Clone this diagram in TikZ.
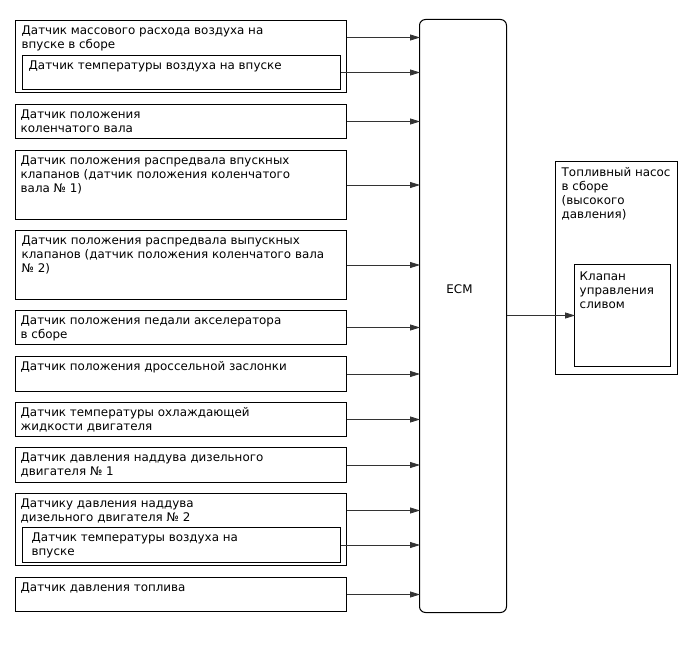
\documentclass[tikz,border=0pt]{standalone}
\usepackage{fontspec}
\setmainfont{DejaVu Sans}
\usetikzlibrary{arrows.meta}
\begin{document}
\begin{tikzpicture}[x=1pt,y=-1pt,
  sbox/.style={draw=black,line width=1pt,anchor=north west,inner sep=0pt,outer sep=0pt},
  txt/.style={anchor=north west,inner sep=0pt,align=left,font=\fontsize{11.9}{14}\selectfont},
  arr/.style={draw=black!80,line width=0.8pt,-{Triangle[length=10pt,width=6pt]},shorten >=-0.5pt}]
\useasboundingbox (0,0) rectangle (688,658);
% sensor boxes
\node[sbox,minimum width=331pt,minimum height=72pt] (b1) at (15.5,20.5) {};
\node[sbox,minimum width=318pt,minimum height=34pt] (i1) at (22.5,55.5) {};
\node[sbox,minimum width=331pt,minimum height=34pt] (b2) at (15.5,104.5) {};
\node[sbox,minimum width=331pt,minimum height=69pt] (b3) at (15.5,150.5) {};
\node[sbox,minimum width=331pt,minimum height=69pt] (b4) at (15.5,230.5) {};
\node[sbox,minimum width=331pt,minimum height=34pt] (b5) at (15.5,310.5) {};
\node[sbox,minimum width=331pt,minimum height=35pt] (b6) at (15.5,356.5) {};
\node[sbox,minimum width=331pt,minimum height=34pt] (b7) at (15.5,402.5) {};
\node[sbox,minimum width=331pt,minimum height=35pt] (b8) at (15.5,447.5) {};
\node[sbox,minimum width=331pt,minimum height=72pt] (b9) at (15.5,493.5) {};
\node[sbox,minimum width=318pt,minimum height=35pt] (i9) at (22.5,527.5) {};
\node[sbox,minimum width=331pt,minimum height=34pt] (b10) at (15.5,577.5) {};
% ECM and pump
\node[sbox,rounded corners=6pt,minimum width=87pt,minimum height=593pt] (ecm) at (419.5,19.5) {};
\node[sbox,minimum width=122pt,minimum height=213pt] (pump) at (555.5,161.5) {};
\node[sbox,minimum width=96pt,minimum height=102pt] (valve) at (574.5,264.5) {};
% texts
\node[txt] (t1) at ([xshift=6pt,yshift=-5pt]b1.north west) {Датчик массового расхода воздуха на\\впуске в сборе};
\node[txt] (ti1) at ([xshift=6pt,yshift=-5pt]i1.north west) {Датчик температуры воздуха на впуске};
\node[txt] (t2) at ([xshift=5pt,yshift=-5pt]b2.north west) {Датчик положения\\коленчатого вала};
\node[txt] (t3) at ([xshift=5pt,yshift=-5pt]b3.north west) {Датчик положения распредвала впускных\\клапанов (датчик положения коленчатого\\вала № 1)};
\node[txt] (t4) at ([xshift=6pt,yshift=-5pt]b4.north west) {Датчик положения распредвала выпускных\\клапанов (датчик положения коленчатого вала\\№ 2)};
\node[txt] (t5) at ([xshift=5pt,yshift=-5pt]b5.north west) {Датчик положения педали акселератора\\в сборе};
\node[txt] (t6) at ([xshift=5pt,yshift=-5pt]b6.north west) {Датчик положения дроссельной заслонки};
\node[txt] (t7) at ([xshift=5pt,yshift=-5pt]b7.north west) {Датчик температуры охлаждающей\\жидкости двигателя};
\node[txt] (t8) at ([xshift=5pt,yshift=-5pt]b8.north west) {Датчик давления наддува дизельного\\двигателя № 1};
\node[txt] (t9) at ([xshift=5pt,yshift=-5pt]b9.north west) {Датчику давления наддува\\дизельного двигателя № 2};
\node[txt] (ti9) at ([xshift=9pt,yshift=-5pt]i9.north west) {Датчик температуры воздуха на\\впуске};
\node[txt] (t10) at ([xshift=5pt,yshift=-5pt]b10.north west) {Датчик давления топлива};
\node[txt] (tp) at ([xshift=6pt,yshift=-6pt]pump.north west) {Топливный насос\\в сборе\\(высокого\\давления)};
\node[txt] (tv) at ([xshift=5pt,yshift=-7pt]valve.north west) {Клапан\\управления\\сливом};
\node[font=\fontsize{11.9}{14}\selectfont,inner sep=0pt] (tecm) at (459.5,289) {ECM};
% connectors
\draw[arr] (b1.east |- 0,37.5) -- (ecm.west |- 0,37.5);
\draw[arr] (i1.east) -- (ecm.west |- i1.east);
\draw[arr] (b2.east) -- (ecm.west |- b2.east);
\draw[arr] (b3.east) -- (ecm.west |- b3.east);
\draw[arr] (b4.east) -- (ecm.west |- b4.east);
\draw[arr] (b5.east) -- (ecm.west |- b5.east);
\draw[arr] (b6.east) -- (ecm.west |- b6.east);
\draw[arr] (b7.east) -- (ecm.west |- b7.east);
\draw[arr] (b8.east) -- (ecm.west |- b8.east);
\draw[arr] (b9.east |- 0,510.5) -- (ecm.west |- 0,510.5);
\draw[arr] (i9.east) -- (ecm.west |- i9.east);
\draw[arr] (b10.east) -- (ecm.west |- b10.east);
\draw[arr] (ecm.east |- valve.west) -- (valve.west);
\end{tikzpicture}
\end{document}
